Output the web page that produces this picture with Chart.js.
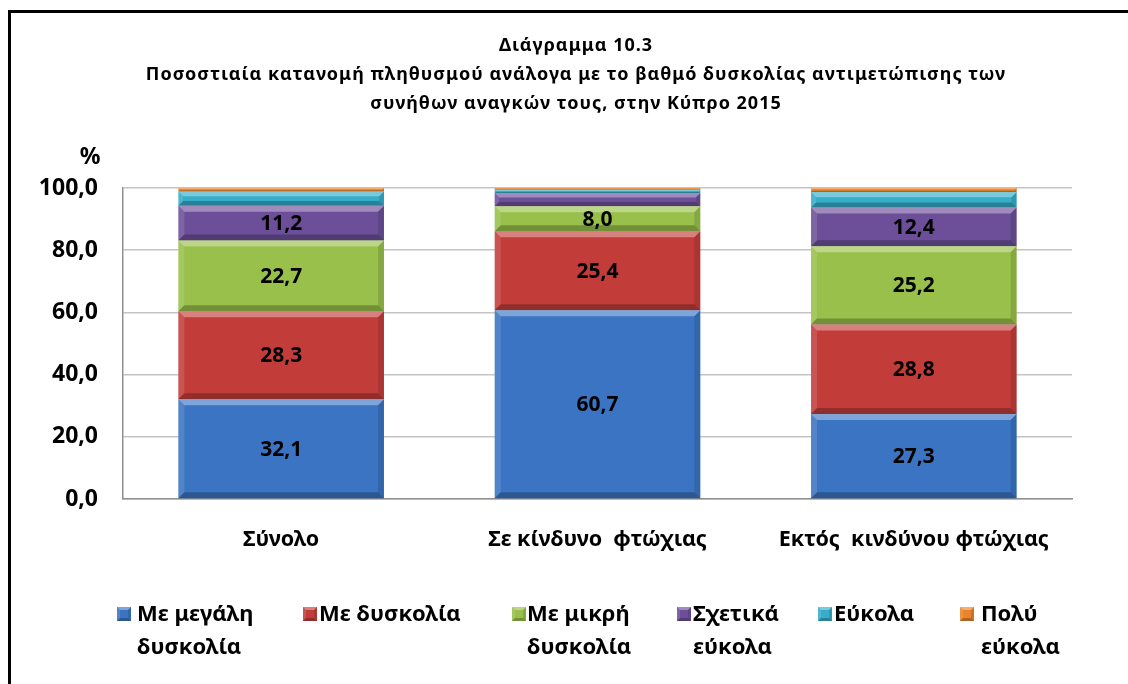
<!DOCTYPE html>
<html><head><meta charset="utf-8">
<script src="https://cdn.jsdelivr.net/npm/chart.js@4.4.0/dist/chart.umd.min.js"></script>
<style>html,body{margin:0;padding:0;background:#fff;} #wrap{width:1128px;height:684px;position:relative;} canvas{display:block;}</style>
</head><body><div id="wrap"><canvas id="c" width="1128" height="684"></canvas></div>
<script>
// ---- data ----
const categories = ['Σύνολο', 'Σε κίνδυνο  φτώχιας', 'Εκτός  κινδύνου φτώχιας'];
const seriesNames = [['Με μεγάλη', 'δυσκολία'], ['Με δυσκολία'], ['Με μικρή', 'δυσκολία'], ['Σχετικά', 'εύκολα'], ['Εύκολα'], ['Πολύ', 'εύκολα']];
const withGreatDifficulty = [32.1, 60.7, 27.3];
const withDifficulty = [28.3, 25.4, 28.8];
const withSomeDifficulty = [22.7, 8.0, 25.2];
const fairlyEasily = [11.2, 4.3, 12.4];
const easily = [4.6, 1.0, 5.0];
const veryEasily = [1.1, 0.6, 1.3];
const yTickValues = [0, 20, 40, 60, 80, 100];
const titleLines = ['Διάγραμμα 10.3', 'Ποσοστιαία κατανομή πληθυσμού ανάλογα με το βαθμό δυσκολίας αντιμετώπισης των', 'συνήθων αναγκών τους, στην Κύπρο 2015'];
const yUnit = '%';

// ---- styles ----
const FONT = "'Noto Sans', 'DejaVu Sans', sans-serif";
const colors = ['#3b74c2', '#c23d39', '#98c04a', '#6c4f98', '#36adc9', '#ea832c'];
const seriesValues = [withGreatDifficulty, withDifficulty, withSomeDifficulty, fairlyEasily, easily, veryEasily];
const legendBoxX = [117, 303, 512, 677, 818, 960];
const legendTextX = [137, 319, 527, 693, 834, 981];

function fmt(v) { return v.toFixed(1).replace('.', ','); }

function bevel(ctx, left, top, right, bottom, b) {
  ctx.save();
  ctx.fillStyle = 'rgba(255,255,255,0.35)';
  ctx.beginPath(); ctx.moveTo(left, top); ctx.lineTo(right, top); ctx.lineTo(right - b, top + b); ctx.lineTo(left + b, top + b); ctx.closePath(); ctx.fill();
  ctx.fillStyle = 'rgba(255,255,255,0.12)';
  ctx.beginPath(); ctx.moveTo(left, top); ctx.lineTo(left + b, top + b); ctx.lineTo(left + b, bottom - b); ctx.lineTo(left, bottom); ctx.closePath(); ctx.fill();
  ctx.fillStyle = 'rgba(0,0,0,0.12)';
  ctx.beginPath(); ctx.moveTo(right, top); ctx.lineTo(right - b, top + b); ctx.lineTo(right - b, bottom - b); ctx.lineTo(right, bottom); ctx.closePath(); ctx.fill();
  ctx.fillStyle = 'rgba(0,0,0,0.25)';
  ctx.beginPath(); ctx.moveTo(left, bottom); ctx.lineTo(right, bottom); ctx.lineTo(right - b, bottom - b); ctx.lineTo(left + b, bottom - b); ctx.closePath(); ctx.fill();
  ctx.restore();
}

const decor = {
  id: 'decor',
  beforeDraw(chart) {
    const ctx = chart.ctx;
    ctx.save();
    ctx.fillStyle = '#fff';
    ctx.fillRect(0, 0, chart.width, chart.height);
    ctx.fillStyle = '#000';
    ctx.fillRect(8, 10, 3, chart.height - 10);
    ctx.fillRect(8, 10, chart.width - 8, 3);
    ctx.restore();
  },
  afterDatasetsDraw(chart) {
    const ctx = chart.ctx;
    chart.data.datasets.forEach((ds, i) => {
      const meta = chart.getDatasetMeta(i);
      meta.data.forEach((el) => {
        const left = el.x - el.width / 2, right = el.x + el.width / 2;
        const top = Math.min(el.y, el.base), bottom = Math.max(el.y, el.base);
        const b = Math.min(6, (bottom - top) / 3);
        bevel(ctx, left, top, right, bottom, b);
      });
    });
    ctx.save();
    ctx.font = 'bold 21px ' + FONT;
    ctx.fillStyle = '#000';
    ctx.textAlign = 'center';
    ctx.textBaseline = 'middle';
    chart.data.datasets.forEach((ds, i) => {
      const meta = chart.getDatasetMeta(i);
      meta.data.forEach((el, j) => {
        const v = ds.data[j];
        if (v >= 8) ctx.fillText(fmt(v), el.x, (el.y + el.base) / 2 + 1);
      });
    });
    ctx.restore();
  },
  afterDraw(chart) {
    const ctx = chart.ctx;
    ctx.save();
    ctx.fillStyle = '#000';
    ctx.textAlign = 'center';
    ctx.textBaseline = 'middle';
    ctx.font = 'bold 18px ' + FONT;
    try { ctx.letterSpacing = '1px'; } catch (e) {}
    titleLines.forEach((t, i) => ctx.fillText(t, 576, 46 + i * 29));
    try { ctx.letterSpacing = '0px'; } catch (e) {}
    ctx.font = 'bold 23px ' + FONT;
    ctx.fillText(yUnit, 90, 157);
    // legend
    ctx.font = 'bold 22px ' + FONT;
    ctx.textAlign = 'left';
    chart.data.datasets.forEach((ds, i) => {
      const bx = legendBoxX[i], by = 607;
      ctx.fillStyle = ds.backgroundColor;
      ctx.fillRect(bx, by, 14, 14);
      bevel(ctx, bx, by, bx + 14, by + 14, 3);
      ctx.fillStyle = '#000';
      seriesNames[i].forEach((line, k) => ctx.fillText(line, legendTextX[i], 615 + k * 33));
    });
    ctx.restore();
  }
};

new Chart(document.getElementById('c'), {
  type: 'bar',
  data: {
    labels: categories,
    datasets: seriesValues.map((vals, i) => ({
      label: seriesNames[i].join(' '),
      data: vals,
      backgroundColor: colors[i],
      borderWidth: 0,
      barPercentage: 0.65,
      categoryPercentage: 1.0
    }))
  },
  options: {
    responsive: false,
    animation: false,
    layout: { padding: { top: 188, left: 0, right: 56, bottom: 115 } },
    plugins: { legend: { display: false }, title: { display: false }, tooltip: { enabled: false } },
    scales: {
      x: {
        stacked: true,
        grid: { display: false, drawTicks: false },
        border: { display: true, color: '#8f8f8f', width: 1.5 },
        ticks: { color: '#000', font: { family: FONT, size: 21.5, weight: 'bold' }, padding: 28, maxRotation: 0 },
        afterFit(s) { s.height = 70; }
      },
      y: {
        stacked: true,
        min: 0, max: 100,
        afterBuildTicks(s) { s.ticks = yTickValues.map(v => ({ value: v })); },
        grid: { color: '#c4c4c4', lineWidth: 1.5, drawTicks: false },
        border: { display: true, color: '#8f8f8f', width: 1.5 },
        ticks: { color: '#000', font: { family: FONT, size: 23, weight: 'bold' }, padding: 25, callback: v => fmt(v) },
        afterFit(s) { s.width = 123; }
      }
    }
  },
  plugins: [decor]
});
</script>
</body></html>
